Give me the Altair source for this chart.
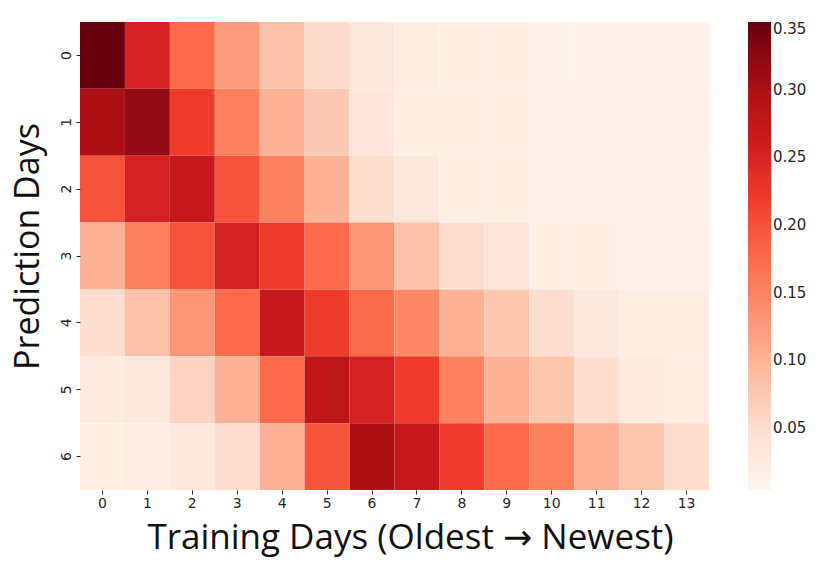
import altair as alt
import pandas as pd

training_days = list(range(14))
prediction_days = list(range(7))

row_0 = [0.350, 0.253, 0.177, 0.125, 0.084, 0.052, 0.032, 0.020, 0.018, 0.018, 0.011, 0.011, 0.011, 0.011]
row_1 = [0.300, 0.320, 0.220, 0.152, 0.100, 0.073, 0.035, 0.018, 0.018, 0.018, 0.012, 0.012, 0.012, 0.012]
row_2 = [0.198, 0.253, 0.270, 0.198, 0.152, 0.100, 0.050, 0.030, 0.018, 0.018, 0.014, 0.011, 0.011, 0.011]
row_3 = [0.100, 0.152, 0.198, 0.253, 0.220, 0.177, 0.130, 0.084, 0.050, 0.035, 0.017, 0.017, 0.013, 0.013]
row_4 = [0.050, 0.084, 0.130, 0.177, 0.270, 0.220, 0.175, 0.145, 0.100, 0.078, 0.050, 0.030, 0.018, 0.018]
row_5 = [0.027, 0.033, 0.062, 0.100, 0.177, 0.280, 0.253, 0.220, 0.152, 0.100, 0.078, 0.050, 0.027, 0.020]
row_6 = [0.017, 0.025, 0.030, 0.050, 0.100, 0.198, 0.300, 0.270, 0.220, 0.177, 0.152, 0.100, 0.078, 0.050]

rows = [row_0, row_1, row_2, row_3, row_4, row_5, row_6]

colorbar_ticks = [0.05, 0.10, 0.15, 0.20, 0.25, 0.30, 0.35]
reds = ["#fff5f0", "#fee0d2", "#fcbba1", "#fc9272", "#fb6a4a",
        "#ef3b2c", "#cb181d", "#a50f15", "#67000d"]
vmin, vmax = 0.004, 0.35

records = []
for p, vals in zip(prediction_days, rows):
    for t, v in zip(training_days, vals):
        records.append({"train": t, "pred": p, "value": v})
df = pd.DataFrame(records)

stops = [vmin + i / 8 * (vmax - vmin) for i in range(9)]

TITLE_FONT = "Open Sans, DejaVu Sans"
LABEL_FONT = "DejaVu Sans"
LABEL_COLOR = "#262626"

chart = alt.Chart(df).mark_rect().encode(
    x=alt.X("train:O", sort=training_days,
            scale=alt.Scale(paddingInner=0, paddingOuter=0),
            axis=alt.Axis(title="Training Days (Oldest → Newest)", labelAngle=0,
                          domain=False, tickSize=4, tickColor=LABEL_COLOR,
                          labelFontSize=14, labelColor=LABEL_COLOR, labelPadding=2,
                          labelFont=LABEL_FONT,
                          titleFontSize=35, titleFont=TITLE_FONT,
                          titleFontWeight="normal", titleColor="#111111",
                          titleX=330, titleY=58, titleAlign="center",
                          titleBaseline="alphabetic")),
    y=alt.Y("pred:O", sort=prediction_days,
            scale=alt.Scale(paddingInner=0, paddingOuter=0),
            axis=alt.Axis(title="Prediction Days", labelAngle=-90,
                          labelAlign="center", labelBaseline="middle",
                          domain=False, tickSize=4, tickColor=LABEL_COLOR,
                          labelFontSize=14, labelColor=LABEL_COLOR, labelPadding=10,
                          labelFont=LABEL_FONT,
                          titleFontSize=34, titleFont=TITLE_FONT,
                          titleFontWeight="normal", titleColor="#111111",
                          titleX=-42, titleY=224, titleAngle=270,
                          titleAlign="center", titleBaseline="alphabetic")),
    color=alt.Color("value:Q",
                    scale=alt.Scale(domain=stops, range=reds, interpolate="rgb"),
                    legend=alt.Legend(title=None, values=colorbar_ticks, format=".2f",
                                      gradientLength=468, gradientThickness=23,
                                      labelFontSize=15, labelFont=LABEL_FONT,
                                      labelColor=LABEL_COLOR, offset=39,
                                      gradientStrokeWidth=0)),
).properties(
    width=629, height=468,
    autosize=alt.AutoSizeParams(type="none"),
    padding={"left": 72, "top": 14, "right": 110, "bottom": 68},
).configure_view(stroke=None)

chart.save("out.html", embed_options={"renderer": "svg", "actions": False})
